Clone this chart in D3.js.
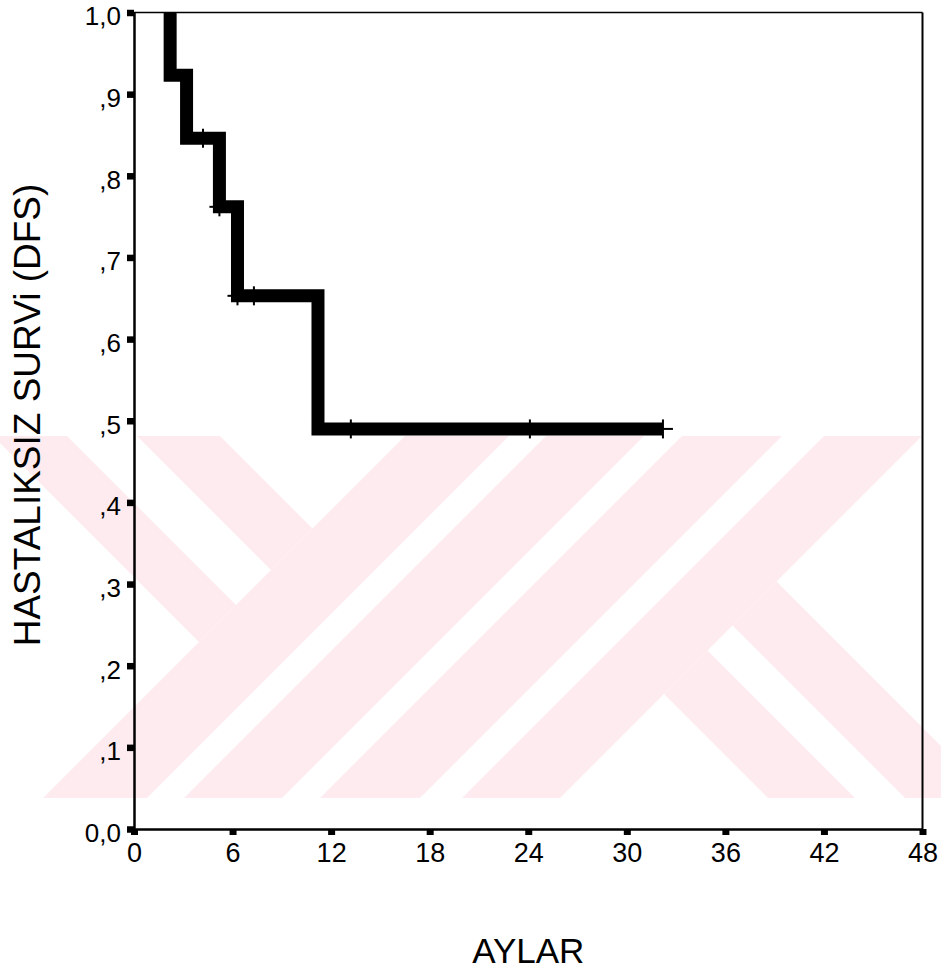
<!DOCTYPE html>
<html>
<head>
<meta charset="utf-8">
<script src="https://cdn.jsdelivr.net/npm/d3@7"></script>
<style>
  html, body { margin: 0; padding: 0; background: #ffffff; }
  svg { display: block; font-family: "Liberation Sans", Arial, Helvetica, sans-serif; }
</style>
</head>
<body>
<svg id="chart" width="941" height="972"></svg>
<script>
// Kaplan–Meier disease-free survival curve, follow-up in months
const stepTimes     = [2.2, 3.2, 5.2, 6.3, 11.2];          // months at which an event occurs
const stepSurvival  = [0.923, 0.846, 0.762, 0.653, 0.490]; // cumulative survival after each event
const startSurvival = 1.0;
const lastFollowUp  = 32.2;
const censorTimes   = [4.2, 5.2, 6.3, 7.3, 13.2, 24.1, 32.2];

const xTicks      = [0, 6, 12, 18, 24, 30, 36, 42, 48];
const yTicks      = [0, 0.1, 0.2, 0.3, 0.4, 0.5, 0.6, 0.7, 0.8, 0.9, 1.0];
const yTickLabels = ["0,0", ",1", ",2", ",3", ",4", ",5", ",6", ",7", ",8", ",9", "1,0"];
const xTitle = "AYLAR";
const yTitle = "HASTALIKSIZ SURVi (DFS)";

const svg = d3.select("#chart");

// ---- faint background emblem (diagonal bands) ----
const emblem = { x0: 0, y0: 436, x1: 941, y1: 798, fill: "#fdebef" };
const leftJoin = 841, rightJoin = 1358, far = 1600;
const leftBars  = [[-443, -369], [-299, -216]];             // "\" bars, x - y ranges
const midBars   = [[841, 945], [982, 1080], [1118, 1218], [1260, 1358]]; // "/" bars, x + y ranges
const rightBars = [[-30, 57], [107, 195]];                  // "\" bars, x - y ranges

svg.append("defs").append("clipPath").attr("id", "emblem-clip")
  .append("rect")
  .attr("x", emblem.x0).attr("y", emblem.y0)
  .attr("width", emblem.x1 - emblem.x0).attr("height", emblem.y1 - emblem.y0);

const emblemPolys = [];
leftBars.forEach(([a, b]) => {
  const k = leftJoin;
  emblemPolys.push([[(k + a) / 2, (k - a) / 2], [(k + b) / 2, (k - b) / 2],
                    [(k + b) / 2 - far, (k - b) / 2 - far], [(k + a) / 2 - far, (k - a) / 2 - far]]);
});
midBars.forEach(([c, d]) => {
  emblemPolys.push([[c + far, -far], [d + far, -far], [d - far - 1000, far + 1000], [c - far - 1000, far + 1000]]);
});
rightBars.forEach(([a, b]) => {
  const k = rightJoin;
  emblemPolys.push([[(k + a) / 2, (k - a) / 2], [(k + b) / 2, (k - b) / 2],
                    [(k + b) / 2 + far, (k - b) / 2 + far], [(k + a) / 2 + far, (k - a) / 2 + far]]);
});
svg.append("g").attr("clip-path", "url(#emblem-clip)")
  .selectAll("polygon").data(emblemPolys).join("polygon")
  .attr("points", d => d.map(p => p.join(",")).join(" "))
  .attr("fill", emblem.fill);

// ---- scales ----
const x = d3.scaleLinear().domain([0, 48]).range([134, 922.5]);
const y = d3.scaleLinear().domain([0, 1]).range([829, 12.5]);

// ---- frame (top and right) ----
svg.append("line")
  .attr("x1", x(0)).attr("x2", x(48)).attr("y1", y(1)).attr("y2", y(1))
  .attr("stroke", "#000").attr("stroke-width", 1.5);
svg.append("line")
  .attr("x1", x(48)).attr("x2", x(48)).attr("y1", y(1)).attr("y2", y(0))
  .attr("stroke", "#000").attr("stroke-width", 2);

// ---- axes ----
const yAxis = d3.axisLeft(y)
  .tickValues(yTicks)
  .tickFormat((d, i) => yTickLabels[i])
  .tickSize(7).tickSizeOuter(0).tickPadding(6);
const gy = svg.append("g").attr("transform", `translate(${x(0)},0)`).call(yAxis);
gy.select(".domain").attr("stroke", "#000").attr("stroke-width", 2.5);
gy.selectAll(".tick line").attr("stroke", "#000").attr("stroke-width", 6.5);
gy.selectAll(".tick text")
  .attr("fill", "#000").attr("font-size", 26).attr("dy", "0.48em")
  .style("font-family", "'Liberation Sans', Arial, sans-serif");

const xAxis = d3.axisBottom(x)
  .tickValues(xTicks)
  .tickFormat(d3.format("d"))
  .tickSize(6).tickSizeOuter(0).tickPadding(8);
const gx = svg.append("g").attr("transform", `translate(0,${y(0)})`).call(xAxis);
gx.select(".domain").attr("stroke", "#000").attr("stroke-width", 2.5);
gx.selectAll(".tick line").attr("stroke", "#000").attr("stroke-width", 7);
gx.selectAll(".tick text")
  .attr("fill", "#000").attr("font-size", 27)
  .style("font-family", "'Liberation Sans', Arial, sans-serif");

// ---- axis titles ----
svg.append("text")
  .attr("x", (x(0) + x(48)) / 2).attr("y", 963)
  .attr("text-anchor", "middle").attr("font-size", 35).attr("fill", "#000")
  .text(xTitle);
svg.append("text")
  .attr("transform", "translate(39.5,415) rotate(-90)")
  .attr("text-anchor", "middle").attr("font-size", 37).attr("fill", "#000")
  .text(yTitle);

// ---- survival step curve ----
const curvePts = [{ t: stepTimes[0], s: startSurvival }]
  .concat(stepTimes.map((t, i) => ({ t, s: stepSurvival[i] })))
  .concat([{ t: lastFollowUp, s: stepSurvival[stepSurvival.length - 1] }]);

const stepLine = d3.line()
  .x(d => x(d.t)).y(d => y(d.s))
  .curve(d3.curveStepAfter);

svg.append("path")
  .datum(curvePts)
  .attr("d", stepLine)
  .attr("fill", "none")
  .attr("stroke", "#000")
  .attr("stroke-width", 13)
  .attr("stroke-linejoin", "miter")
  .attr("stroke-linecap", "butt");

// ---- censored observations (+) ----
function survivalAt(t) {
  let s = startSurvival;
  stepTimes.forEach((et, i) => { if (et <= t) s = stepSurvival[i]; });
  return s;
}
const censor = svg.append("g").attr("stroke", "#000").attr("stroke-width", 2);
censorTimes.forEach(t => {
  const cx = x(t), cy = y(survivalAt(t));
  censor.append("line").attr("x1", cx).attr("x2", cx).attr("y1", cy - 9.5).attr("y2", cy + 9.5);
  censor.append("line").attr("x1", cx - 10).attr("x2", cx + 10).attr("y1", cy).attr("y2", cy);
});
</script>
</body>
</html>
